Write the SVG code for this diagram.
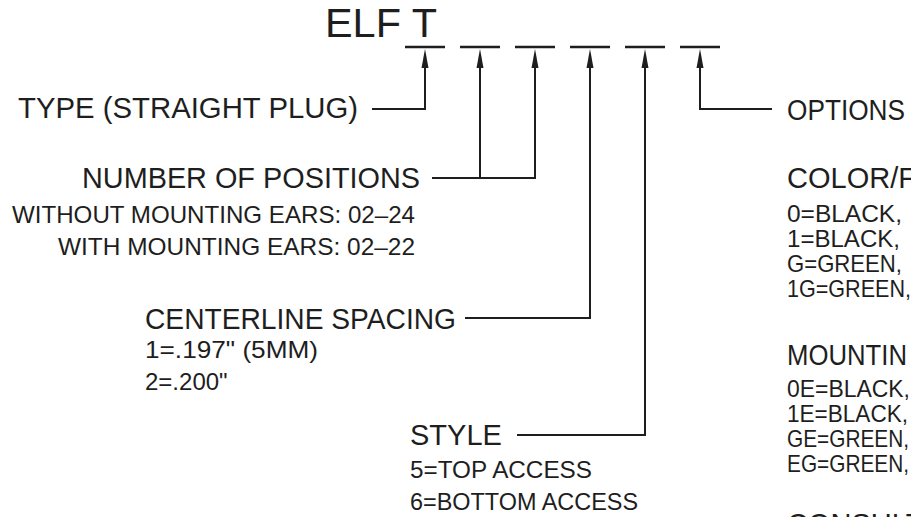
<svg xmlns="http://www.w3.org/2000/svg" width="911" height="517" viewBox="0 0 911 517">
  <style>
    text { font-family: "Liberation Sans", Arial, sans-serif; fill: #1e1e1e; }
    .big { font-size: 29px; }
    .sm { font-size: 24px; }
    .title { font-size: 40px; }
    .ln { stroke: #1e1e1e; stroke-width: 2; fill: none; }
    .bar { stroke: #1e1e1e; stroke-width: 2.5; }
  </style>
  <defs>
    <marker id="arr" markerUnits="userSpaceOnUse" markerWidth="20" markerHeight="8" viewBox="0 0 20 8" refX="13" refY="4" orient="auto">
      <path d="M0,0.5 L19,4 L0,7.5 Z" fill="#1e1e1e"/>
    </marker>
  </defs>
  <rect width="911" height="517" fill="#ffffff"/>

  <g id="title">
    <text class="title" x="325" y="37" textLength="112" lengthAdjust="spacingAndGlyphs">ELF T</text>
    <line class="bar" x1="405" y1="47" x2="445" y2="47"/>
    <line class="bar" x1="460" y1="47" x2="500" y2="47"/>
    <line class="bar" x1="515" y1="47" x2="555" y2="47"/>
    <line class="bar" x1="570" y1="47" x2="610" y2="47"/>
    <line class="bar" x1="625" y1="47" x2="665" y2="47"/>
    <line class="bar" x1="680" y1="47" x2="720" y2="47"/>
  </g>

  <g id="connectors">
    <polyline class="ln" points="372,109 425,109 425,55" marker-end="url(#arr)"/>
    <polyline class="ln" points="432,178 535,178 535,55" marker-end="url(#arr)"/>
    <line class="ln" x1="480" y1="178" x2="480" y2="55" marker-end="url(#arr)"/>
    <polyline class="ln" points="465,318 590,318 590,55" marker-end="url(#arr)"/>
    <polyline class="ln" points="517,435 645,435 645,55" marker-end="url(#arr)"/>
    <polyline class="ln" points="772,109 700,109 700,55" marker-end="url(#arr)"/>
  </g>

  <g id="type">
    <text class="big" x="18" y="118" textLength="340" lengthAdjust="spacingAndGlyphs">TYPE (STRAIGHT PLUG)</text>
  </g>

  <g id="positions">
    <text class="big" x="82" y="188" textLength="338" lengthAdjust="spacingAndGlyphs">NUMBER OF POSITIONS</text>
    <text class="sm" x="12" y="223" textLength="403" lengthAdjust="spacingAndGlyphs">WITHOUT MOUNTING EARS: 02–24</text>
    <text class="sm" x="58" y="255" textLength="357" lengthAdjust="spacingAndGlyphs">WITH MOUNTING EARS: 02–22</text>
  </g>

  <g id="spacing">
    <text class="big" x="145" y="329" textLength="311" lengthAdjust="spacingAndGlyphs">CENTERLINE SPACING</text>
    <text class="sm" x="145" y="358" textLength="173" lengthAdjust="spacingAndGlyphs">1=.197" (5MM)</text>
    <text class="sm" x="145" y="390">2=.200"</text>
  </g>

  <g id="style">
    <text class="big" x="410" y="445">STYLE</text>
    <text class="sm" x="410" y="478" textLength="182" lengthAdjust="spacingAndGlyphs">5=TOP ACCESS</text>
    <text class="sm" x="410" y="510" textLength="228" lengthAdjust="spacingAndGlyphs">6=BOTTOM ACCESS</text>
  </g>

  <g id="options">
    <text class="big" x="787" y="120" textLength="118" lengthAdjust="spacingAndGlyphs">OPTIONS</text>
    <text class="big" x="787" y="188">COLOR/F</text>
    <text class="sm" x="787" y="222" textLength="115" lengthAdjust="spacingAndGlyphs">0=BLACK,</text>
    <text class="sm" x="787" y="247" textLength="113" lengthAdjust="spacingAndGlyphs">1=BLACK,</text>
    <text class="sm" x="787" y="272" textLength="115" lengthAdjust="spacingAndGlyphs">G=GREEN,</text>
    <text class="sm" x="787" y="297" textLength="124" lengthAdjust="spacingAndGlyphs">1G=GREEN,</text>
    <text class="big" x="787" y="365" textLength="120" lengthAdjust="spacingAndGlyphs">MOUNTIN</text>
    <text class="sm" x="787" y="397" textLength="123" lengthAdjust="spacingAndGlyphs">0E=BLACK,</text>
    <text class="sm" x="787" y="422" textLength="121" lengthAdjust="spacingAndGlyphs">1E=BLACK,</text>
    <text class="sm" x="787" y="447" textLength="122" lengthAdjust="spacingAndGlyphs">GE=GREEN,</text>
    <text class="sm" x="787" y="472" textLength="122" lengthAdjust="spacingAndGlyphs">EG=GREEN,</text>
    <text class="big" x="787" y="534">CONSULT</text>
  </g>
</svg>
